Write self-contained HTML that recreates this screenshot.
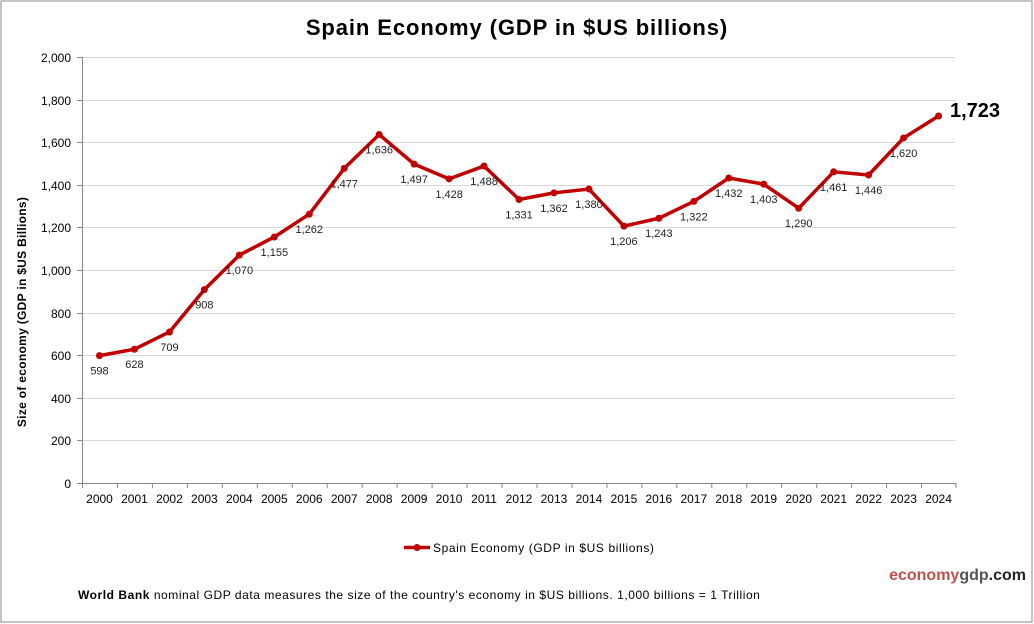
<!DOCTYPE html>
<html><head><meta charset="utf-8"><style>
body{margin:0;background:#fff}
svg{display:block;font-family:"Liberation Sans",Arial,sans-serif}
</style></head><body>
<svg width="1034" height="624" viewBox="0 0 1034 624" xmlns="http://www.w3.org/2000/svg">
<rect x="1" y="1" width="1031" height="621" fill="#fff" stroke="#888" stroke-width="1"/>
<text x="517" y="35" text-anchor="middle" font-size="22" font-weight="bold" letter-spacing="0.9">Spain Economy (GDP in $US billions)</text>
<g stroke="#d9d9d9" stroke-width="1">
<line x1="82" y1="57.5" x2="956" y2="57.5"/><line x1="82" y1="100.5" x2="956" y2="100.5"/><line x1="82" y1="142.5" x2="956" y2="142.5"/><line x1="82" y1="185.5" x2="956" y2="185.5"/><line x1="82" y1="227.5" x2="956" y2="227.5"/><line x1="82" y1="270.5" x2="956" y2="270.5"/><line x1="82" y1="313.5" x2="956" y2="313.5"/><line x1="82" y1="355.5" x2="956" y2="355.5"/><line x1="82" y1="398.5" x2="956" y2="398.5"/><line x1="82" y1="440.5" x2="956" y2="440.5"/>
</g>
<g stroke="#888" stroke-width="1">
<line x1="82.5" y1="57" x2="82.5" y2="483"/><line x1="82" y1="483.5" x2="956" y2="483.5"/>
<line x1="77" y1="57.5" x2="82" y2="57.5"/><line x1="77" y1="100.5" x2="82" y2="100.5"/><line x1="77" y1="142.5" x2="82" y2="142.5"/><line x1="77" y1="185.5" x2="82" y2="185.5"/><line x1="77" y1="227.5" x2="82" y2="227.5"/><line x1="77" y1="270.5" x2="82" y2="270.5"/><line x1="77" y1="313.5" x2="82" y2="313.5"/><line x1="77" y1="355.5" x2="82" y2="355.5"/><line x1="77" y1="398.5" x2="82" y2="398.5"/><line x1="77" y1="440.5" x2="82" y2="440.5"/><line x1="77" y1="483.5" x2="82" y2="483.5"/>
</g>
<g id="xt" stroke="#888"></g>
<g font-size="12" text-anchor="end" fill="#000">
<text x="71" y="62">2,000</text><text x="71" y="105">1,800</text><text x="71" y="147">1,600</text><text x="71" y="190">1,400</text><text x="71" y="232">1,200</text><text x="71" y="275">1,000</text><text x="71" y="318">800</text><text x="71" y="360">600</text><text x="71" y="403">400</text><text x="71" y="445">200</text><text x="71" y="488">0</text>
</g>
<text transform="translate(26,312) rotate(-90)" text-anchor="middle" font-size="12" font-weight="bold" letter-spacing="0.3">Size of economy (GDP in $US Billions)</text>
<g id="xl" font-size="12" text-anchor="middle"></g>
<polyline id="ln" fill="none" stroke="#c00000" stroke-width="3.5" stroke-linejoin="round"/>
<g id="pts" fill="#c00000"></g>
<g id="lb" font-size="11" text-anchor="middle" fill="#222"></g>
<text x="950" y="117" font-size="20" font-weight="bold">1,723</text>
<line x1="404" y1="547.5" x2="430" y2="547.5" stroke="#c00000" stroke-width="3.5"/>
<circle cx="417" cy="547.5" r="3.5" fill="#c00000"/>
<text x="433" y="552" font-size="12" letter-spacing="0.6">Spain Economy (GDP in $US billions)</text>
<text x="1026" y="580" text-anchor="end" font-size="16" font-weight="bold"><tspan fill="#c0504d">economy</tspan><tspan fill="#555">gdp</tspan><tspan fill="#222">.com</tspan></text>
<text x="78" y="599" font-size="12" letter-spacing="0.55"><tspan font-weight="bold">World Bank</tspan> nominal GDP data  measures the size of the country's economy in $US billions. 1,000 billions = 1 Trillion</text>
</svg>
<script>
var v=[598,628,709,908,1070,1155,1262,1477,1636,1497,1428,1488,1331,1362,1380,1206,1243,1322,1432,1403,1290,1461,1446,1620,1723];
var ns="http://www.w3.org/2000/svg",p=[],pts=document.getElementById('pts'),lb=document.getElementById('lb'),xl=document.getElementById('xl'),xt=document.getElementById('xt');
function el(t,a,par,txt){var e=document.createElementNS(ns,t);for(var k in a)e.setAttribute(k,a[k]);if(txt)e.textContent=txt;par.appendChild(e);}
for(var i=0;i<25;i++){var x=99.5+34.96*i,y=483-v[i]*0.213;p.push(x+','+y);
el('circle',{cx:x,cy:y,r:3.5},pts);
if(i<24)el('text',{x:x,y:y+19},lb,v[i].toLocaleString('en-US'));
el('text',{x:x,y:503},xl,String(2000+i));
var tx=82.5+34.96*i;el('line',{x1:tx,y1:483,x2:tx,y2:488},xt);}
el('line',{x1:956,y1:483,x2:956,y2:488},xt);
document.getElementById('ln').setAttribute('points',p.join(' '));
</script>
</body></html>
